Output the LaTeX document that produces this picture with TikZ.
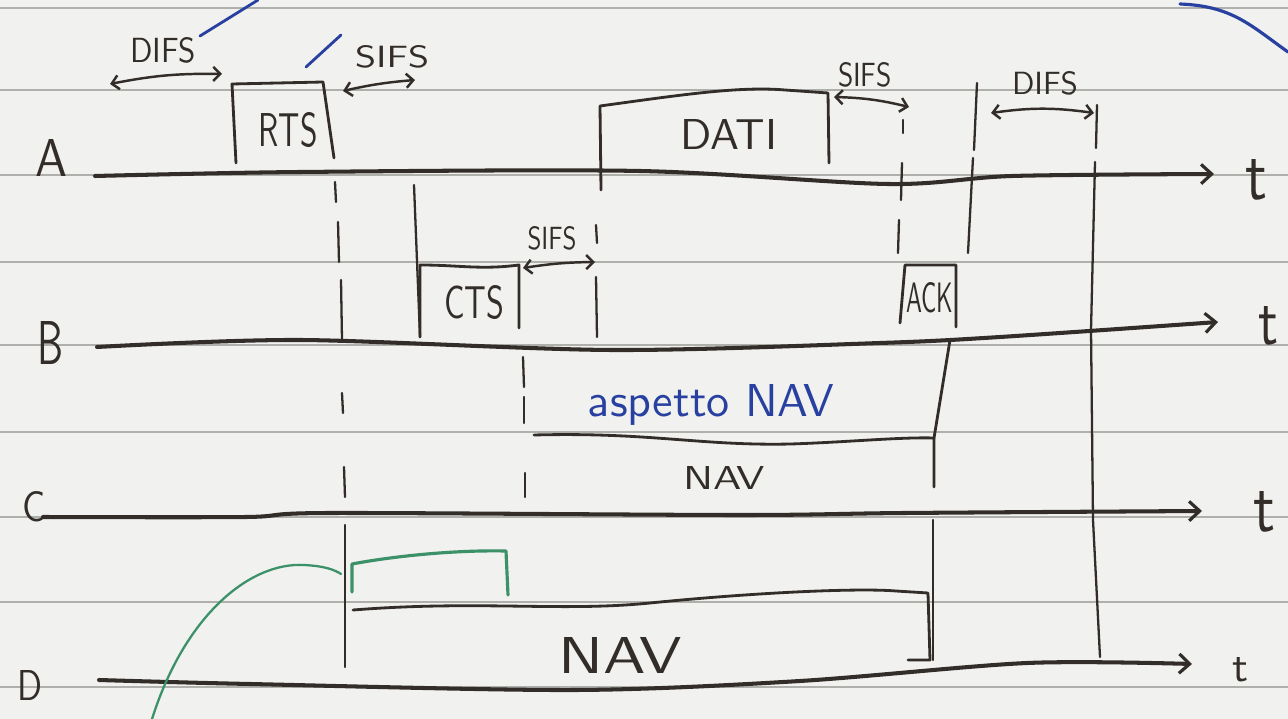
\documentclass[tikz,border=0pt]{standalone}
\usepackage{graphicx}
\usetikzlibrary{arrows.meta}
\newlength\pxu \setlength\pxu{0.02cm}
\newcommand\hw[3]{\resizebox{#1\pxu}{#2\pxu}{\sffamily #3}}
\definecolor{ink}{RGB}{50,45,40}
\definecolor{blueink}{RGB}{40,65,160}
\definecolor{greenink}{RGB}{60,145,105}
\definecolor{paper}{RGB}{241,241,239}
\definecolor{rule}{RGB}{175,175,172}
\begin{document}
\begin{tikzpicture}[x=0.02cm,y=-0.02cm,
  axisline/.style={ink, line width=2.3pt, line cap=round, -{Straight Barb[length=6pt,width=11pt,line width=1.8pt]}},
  boxline/.style={ink, line width=1.6pt, line cap=round, line join=round},
  tickline/.style={ink, line width=1.3pt, line cap=round},
  gaparrow/.style={ink, line width=1.4pt, {Straight Barb[length=4pt,width=8pt]}-{Straight Barb[length=4pt,width=8pt]}},
  lbl/.style={inner sep=0pt, text=ink},
  rulestyle/.style={rule, line width=0.6pt},
]
% paper
\fill[paper] (0,0) rectangle (1288,719);
\useasboundingbox (0,0) rectangle (1288,719);
\foreach \yy in {8,90,175,262,345,432,517,602,687}
  \draw[rulestyle] (0,\yy) -- (1288,\yy);

% blue margin strokes (cut-off annotations)
\coordinate (bl0) at (200,36); \coordinate (bl1) at (258,0);
\draw[blueink, line width=1.6pt, line cap=round] (bl0) -- (bl1);
\coordinate (bs0) at (306,67); \coordinate (bs1) at (341,35);
\draw[blueink, line width=1.6pt, line cap=round] (bs0) -- (bs1);
\coordinate (bc0) at (1180,4); \coordinate (bc1) at (1288,52);
\draw[blueink, line width=1.8pt, line cap=round] (bc0) .. controls (1232,6) and (1250,25) .. (bc1);

% station labels
\node[lbl] (lA) at (51,158) {\hw{32}{37}{A}};
\node[lbl] (lB) at (50,343) {\hw{26}{43}{B}};
\node[lbl] (lC) at (34,507) {\hw{23}{30}{C}};
\node[lbl] (lD) at (30,685) {\hw{25}{30}{D}};

% time axes
\coordinate (a0) at (95,176);  \coordinate (a1) at (1214,174);
\coordinate (b0) at (97,347);  \coordinate (b1) at (1218,322);
\coordinate (c0) at (43,517);  \coordinate (c1) at (1202,511);
\coordinate (d0) at (99,680);  \coordinate (d1) at (1192,664);
\draw[axisline] plot[smooth,tension=0.5] coordinates {(a0) (300,172) (640,171) (888,184) (1012,176) (a1)};
\draw[axisline] plot[smooth,tension=0.5] coordinates {(b0) (300,340) (612,350) (880,343) (1000,337) (b1)};
\draw[axisline] plot[smooth,tension=0.5] coordinates {(c0) (246,517) (329,513) (740,515) (904,513) (c1)};
\draw[axisline] plot[smooth,tension=0.5] coordinates {(d0) (250,684) (575,690) (800,681) (1027,663) (d1)};
\node[lbl] (tA) at (1256,180) {\hw{22}{40}{t}};
\node[lbl] (tB) at (1268,326) {\hw{20}{38}{t}};
\node[lbl] (tC) at (1264,512) {\hw{22}{40}{t}};
\node[lbl] (tD) at (1240,670) {\hw{16}{24}{t}};

% ---- A: RTS ----
\coordinate (rtsbl) at (236,163); \coordinate (rtstl) at (232,84);
\coordinate (rtstr) at (323,82);  \coordinate (rtsbr) at (334,158);
\draw[boxline] (rtsbl) -- (rtstl) -- (rtstr) -- (rtsbr);
\node[lbl] (rts) at (288,130) {\hw{59}{34}{RTS}};

\coordinate (dA0) at (110,84); \coordinate (dA1) at (222,74);
\draw[gaparrow] (dA0) to[bend left=6] (dA1);
\node[lbl] (difsA) at (163,50) {\hw{66}{25}{DIFS}};

\coordinate (sA0) at (343,91); \coordinate (sA1) at (415,80);
\draw[gaparrow] (sA0) to[bend left=4] (sA1);
\node[lbl] (sifsA) at (392,57) {\hw{74}{22}{SIFS}};

% ---- A: DATI ----
\coordinate (datbl) at (601,190); \coordinate (dattl) at (600,106);
\coordinate (dattr) at (828,93);  \coordinate (datbr) at (829,163);
\draw[boxline] (datbl) -- (dattl) .. controls (680,95) and (740,86) .. (785,90) -- (dattr) -- (datbr);
\node[lbl] (dati) at (729,135) {\hw{97}{30}{DATI}};

\coordinate (sD0) at (834,97); \coordinate (sD1) at (909,107);
\draw[gaparrow] (sD0) to[bend left=6] (sD1);
\node[lbl] (sifsD) at (865,75) {\hw{54}{24}{SIFS}};

\coordinate (dR0) at (991,113); \coordinate (dR1) at (1094,113);
\draw[gaparrow] (dR0) to[bend left=8] (dR1);
\node[lbl] (difsR) at (1045,83) {\hw{66}{23}{DIFS}};

% vertical guides between A and B
\draw[tickline] (335,182) -- (336,202);
\draw[tickline] (338,222) -- (339,262);
\draw[tickline] (341,280) -- (342,340);
\draw[tickline] (414,185) -- (420,337);
\draw[tickline] (596,225) -- (597,243);
\draw[tickline] (596,277) -- (597,337);
\draw[tickline] (903,120) -- (903,133);
\draw[tickline] (902,163) -- (901,200);
\draw[tickline] (899,220) -- (898,253);
\draw[tickline] (977,83) -- (974,150);
\draw[tickline] (973,158) -- (968,253);
\draw[tickline] (1097,105) -- (1096,148);
\draw[tickline] (1095,162) -- (1091,330) -- (1093,520) -- (1100,657);

% ---- B: CTS ----
\coordinate (ctsbl) at (420,337); \coordinate (ctstl) at (420,265);
\coordinate (ctstr) at (519,265); \coordinate (ctsbr) at (519,328);
\draw[boxline] (ctsbl) -- (ctstl) .. controls (460,265) and (480,270) .. (ctstr) -- (ctsbr);
\node[lbl] (cts) at (474,303) {\hw{60}{33}{CTS}};

\coordinate (sB0) at (523,268); \coordinate (sB1) at (595,262);
\draw[gaparrow] (sB0) to[bend left=4] (sB1);
\node[lbl] (sifsB) at (552,238) {\hw{49}{23}{SIFS}};

% ---- B: ACK ----
\coordinate (ackbl) at (900,323); \coordinate (acktl) at (905,265);
\coordinate (acktr) at (956,265); \coordinate (ackbr) at (956,327);
\draw[boxline] (ackbl) -- (acktl) -- (acktr) -- (ackbr);
\node[lbl] (ack) at (930,298) {\hw{47}{30}{ACK}};

% ---- C: NAV ----
\draw[tickline] (342,393) -- (343,413);
\draw[tickline] (344,467) -- (345,497);
\draw[tickline] (523,357) -- (524,387);
\draw[tickline] (524,397) -- (524,423);
\draw[tickline] (525,473) -- (525,497);
\coordinate (navcl) at (534,435); \coordinate (navcr) at (934,438);
\coordinate (navcb) at (934,487); \coordinate (ackdown) at (950,340);
\draw[boxline] (navcl) .. controls (650,432) and (700,446) .. (791,444) .. controls (850,442) and (900,437) .. (navcr) -- (navcb);
\draw[boxline] (ackdown) -- (navcr);
\node[lbl, text=blueink] (asp) at (711,405) {\resizebox{246\pxu}{!}{\sffamily aspetto NAV}};
\node[lbl] (navC) at (724,478) {\hw{82}{23}{NAV}};

% ---- D: NAV ----
\coordinate (dv0) at (345,525); \coordinate (dv1) at (345,667);
\draw[tickline] (dv0) -- (dv1);
\coordinate (dv2) at (933,520); \coordinate (dv3) at (933,660);
\draw[tickline] (dv2) -- (dv3);
\coordinate (navdl) at (353,610); \coordinate (navdr) at (928,593);
\coordinate (navdb) at (930,660); \coordinate (navdf) at (908,660);
\draw[boxline] (navdl) .. controls (480,600) and (560,612) .. (650,603) .. controls (760,592) and (860,588) .. (896,591) -- (navdr) -- (navdb) -- (navdf);
\node[lbl] (navD) at (620,655) {\hw{123}{36}{NAV}};

% green annotation
\coordinate (g0) at (152,719); \coordinate (g1) at (341,574);
\draw[greenink, line width=1.3pt, line cap=round] (g0) .. controls (185,615) and (250,562) .. (304,565) .. controls (325,566) and (335,570) .. (g1);
\coordinate (gbl) at (352,592); \coordinate (gtl) at (352,564);
\coordinate (gtr) at (506,551); \coordinate (gbr) at (508,595);
\draw[greenink, line width=1.8pt, line cap=round, line join=round] (gbl) -- (gtl) .. controls (400,555) and (460,550) .. (gtr) -- (gbr);

\end{tikzpicture}
\end{document}
